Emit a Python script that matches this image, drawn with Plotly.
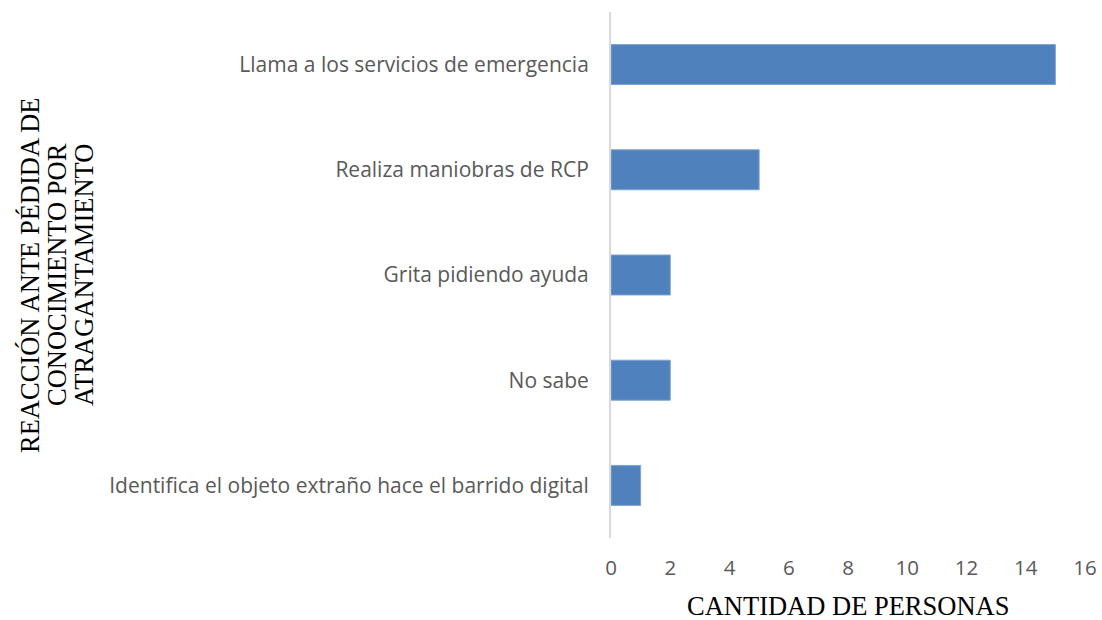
import plotly.graph_objects as go

categorias = [
    "Identifica el objeto extraño hace el barrido digital",
    "No sabe",
    "Grita pidiendo ayuda",
    "Realiza maniobras de RCP",
    "Llama a los servicios de emergencia",
]
personas = [1, 2, 2, 5, 15]
ticks_x = [0, 2, 4, 6, 8, 10, 12, 14, 16]
titulo_y = ["REACCIÓN ANTE PÉDIDA DE", "CONOCIMIENTO POR", "ATRAGANTAMIENTO"]

W, H = 1102, 620
L, R, T, B = 611, 17, 12, 82
PW, PH = W - L - R, H - T - B

fig = go.Figure(
    go.Bar(
        x=personas,
        y=categorias,
        orientation="h",
        width=0.38,
        marker=dict(color="#4F81BD", line=dict(color="#7FA3D3", width=1)),
    )
)

gris = "#595959"
serif = dict(family="Liberation Serif", size=26.5, color="black")

anotaciones = [
    dict(
        text="CANTIDAD DE PERSONAS",
        xref="paper", yref="paper",
        x=(848 - L) / PW, y=(H - B - 606) / PH,
        xanchor="center", yanchor="middle",
        showarrow=False,
        font=serif,
    )
]
# y-axis title, one rotated line at a time for tighter line spacing
for i, linea in enumerate(titulo_y):
    anotaciones.append(
        dict(
            text=linea,
            xref="paper", yref="paper",
            x=(30 + 27 * i - L) / PW, y=(H - B - 275) / PH,
            xanchor="center", yanchor="middle",
            textangle=-90,
            showarrow=False,
            font=serif,
        )
    )

fig.update_layout(
    width=W,
    height=H,
    margin=dict(l=L, r=R, t=T, b=B, autoexpand=False),
    paper_bgcolor="white",
    plot_bgcolor="white",
    showlegend=False,
    xaxis=dict(
        range=[0, 16],
        tickvals=ticks_x,
        ticktext=[str(v) for v in ticks_x],
        showgrid=False,
        zeroline=False,
        showline=False,
        ticks="",
        tickfont=dict(family="Open Sans", size=20.5, color=gris),
        ticklabelstandoff=15,
    ),
    yaxis=dict(
        categoryorder="array",
        categoryarray=categorias,
        range=[-0.5, 4.5],
        showgrid=False,
        zeroline=False,
        showline=True,
        linecolor="#D9D9D9",
        linewidth=2,
        ticks="",
        tickfont=dict(family="Open Sans", size=21, color=gris),
        ticklabelstandoff=16,
    ),
    annotations=anotaciones,
)

fig.write_html("out.html")
